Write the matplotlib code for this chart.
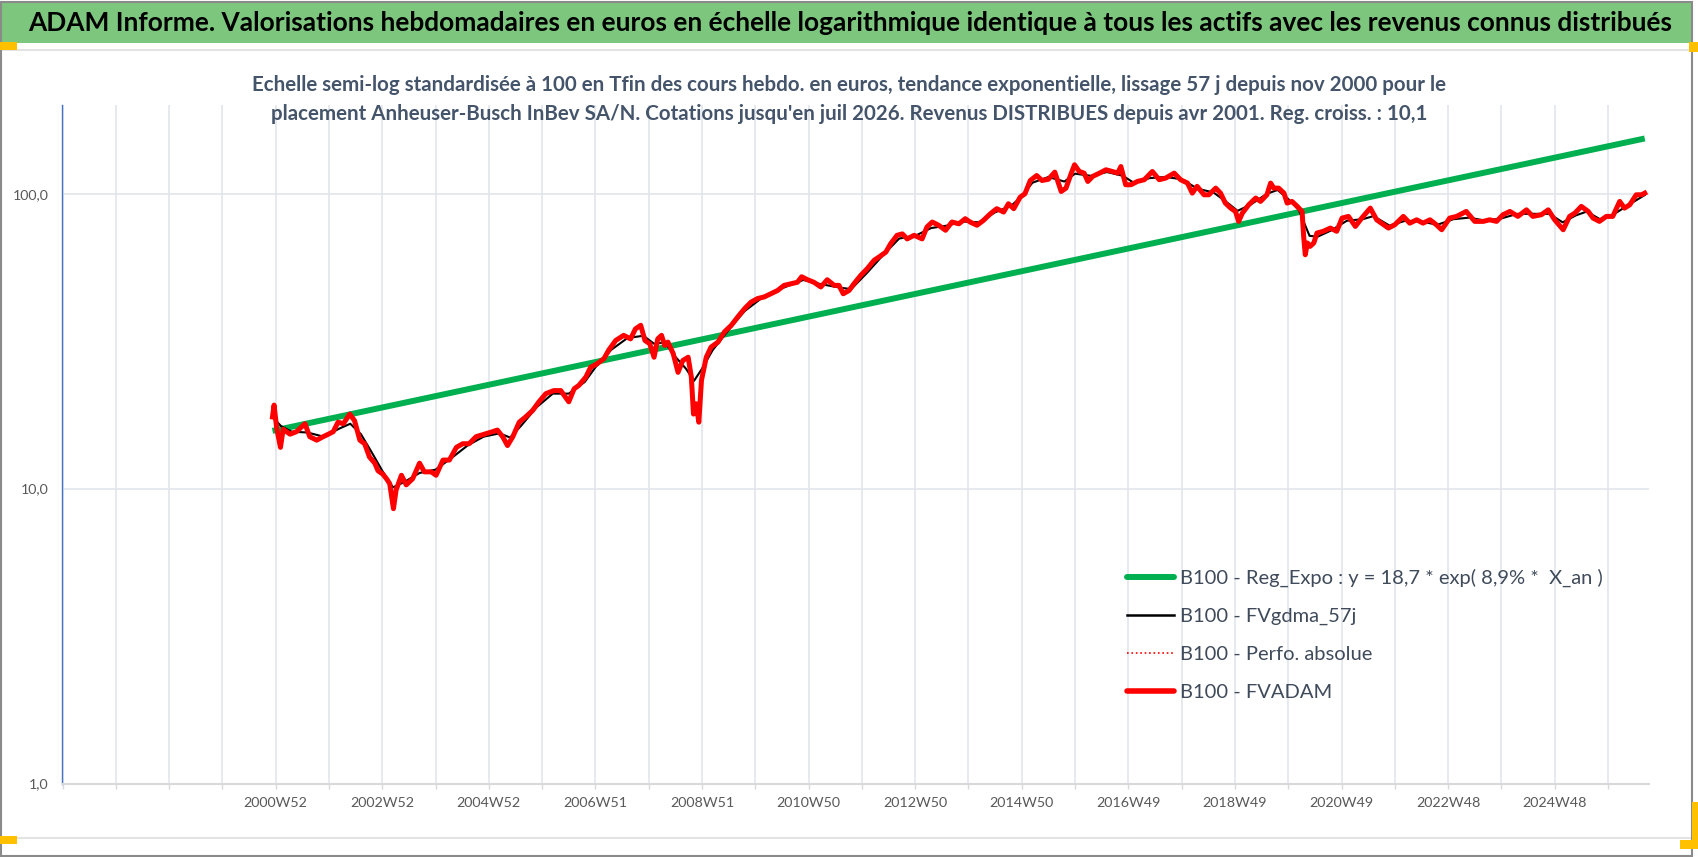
import matplotlib
matplotlib.use("Agg")
import matplotlib.pyplot as plt
import matplotlib.ticker as mticker
from matplotlib.lines import Line2D
from matplotlib.patches import Rectangle

# ---------------- data ----------------
title = ("ADAM Informe. Valorisations hebdomadaires en euros en échelle logarithmique "
         "identique à tous les actifs avec les revenus connus distribués")
subtitle_1 = ("Echelle semi-log standardisée à 100 en Tfin des cours hebdo. en euros, tendance "
              "exponentielle, lissage 57 j depuis nov 2000 pour le")
subtitle_2 = ("placement Anheuser-Busch InBev SA/N. Cotations jusqu'en juil 2026. Revenus "
              "DISTRIBUES depuis avr 2001. Reg. croiss. : 10,1")

series_names = ["B100 - Reg_Expo : y = 18,7 * exp( 8,9% *  X_an )",
                "B100 - FVgdma_57j",
                "B100 - Perfo. absolue",
                "B100 - FVADAM"]

# decimal-year position, value (B100)
fvadam = [
    (2000.94, 17.5), (2000.97, 19.2), (2001.02, 16.0), (2001.09, 13.8), (2001.14, 15.9),
    (2001.27, 15.3), (2001.39, 15.6), (2001.55, 16.6), (2001.64, 15.0), (2001.77, 14.6),
    (2001.89, 15.0), (2001.99, 15.3), (2002.08, 15.6), (2002.17, 16.8), (2002.27, 16.6),
    (2002.39, 17.9), (2002.48, 17.0), (2002.58, 14.6), (2002.67, 14.2), (2002.76, 12.8),
    (2002.86, 12.2), (2002.92, 11.5), (2003.01, 11.2), (2003.08, 10.8), (2003.14, 10.4),
    (2003.21, 8.55), (2003.26, 9.9), (2003.36, 11.1), (2003.45, 10.3), (2003.57, 10.8),
    (2003.70, 12.2), (2003.79, 11.4), (2003.92, 11.4), (2004.01, 11.1), (2004.14, 12.5),
    (2004.26, 12.5), (2004.39, 13.8), (2004.51, 14.2), (2004.63, 14.2), (2004.76, 15.0),
    (2004.92, 15.3), (2005.07, 15.6), (2005.16, 15.8), (2005.26, 15.0), (2005.35, 14.0),
    (2005.45, 15.0), (2005.57, 16.8), (2005.69, 17.5), (2005.82, 18.4), (2005.94, 19.7),
    (2006.07, 21.0), (2006.22, 21.5), (2006.35, 21.5), (2006.50, 19.7), (2006.60, 21.8),
    (2006.69, 22.4), (2006.82, 23.9), (2006.91, 25.8), (2007.03, 26.5), (2007.16, 27.6),
    (2007.25, 29.5), (2007.38, 31.8), (2007.53, 33.1), (2007.66, 32.2), (2007.75, 34.8),
    (2007.85, 35.8), (2007.93, 31.8), (2008.02, 31.0), (2008.10, 27.9), (2008.17, 32.2),
    (2008.24, 33.1), (2008.30, 30.6), (2008.36, 31.4), (2008.46, 28.7), (2008.55, 24.8),
    (2008.64, 27.2), (2008.74, 27.9), (2008.80, 23.9), (2008.84, 17.9), (2008.89, 19.4),
    (2008.94, 16.8), (2008.99, 23.3), (2009.08, 27.9), (2009.17, 30.2), (2009.30, 31.4),
    (2009.42, 34.0), (2009.55, 35.8), (2009.67, 38.2), (2009.80, 40.8), (2009.92, 42.9),
    (2010.04, 44.1), (2010.17, 44.7), (2010.29, 45.8), (2010.42, 47.0), (2010.54, 48.9),
    (2010.67, 49.5), (2010.79, 50.1), (2010.87, 52.3), (2010.98, 51.1), (2011.10, 50.1),
    (2011.23, 48.3), (2011.35, 51.1), (2011.48, 48.9), (2011.57, 48.9), (2011.65, 45.8),
    (2011.76, 47.0), (2011.85, 49.5), (2011.98, 52.9), (2012.10, 55.7), (2012.23, 59.5),
    (2012.32, 61.0), (2012.45, 63.4), (2012.54, 67.7), (2012.66, 72.3), (2012.76, 73.1),
    (2012.85, 70.3), (2012.98, 72.3), (2013.13, 70.3), (2013.22, 77.1), (2013.32, 80.2),
    (2013.44, 78.2), (2013.57, 75.2), (2013.69, 80.2), (2013.82, 79.1), (2013.94, 82.3),
    (2014.03, 80.2), (2014.16, 78.2), (2014.28, 81.2), (2014.41, 85.5), (2014.53, 89.0),
    (2014.66, 86.7), (2014.75, 92.5), (2014.85, 89.0), (2014.97, 97.4), (2015.06, 100.0),
    (2015.16, 110.9), (2015.28, 115.3), (2015.38, 110.9), (2015.50, 112.0), (2015.62, 118.4),
    (2015.74, 101.8), (2015.83, 104.5), (2015.93, 117.5), (2015.99, 125.4), (2016.08, 119.0),
    (2016.17, 117.5), (2016.24, 110.1), (2016.33, 114.5), (2016.46, 117.5), (2016.58, 120.6),
    (2016.70, 119.0), (2016.80, 117.5), (2016.86, 123.7), (2016.95, 107.3), (2017.05, 107.3),
    (2017.17, 110.1), (2017.30, 111.6), (2017.45, 119.0), (2017.58, 111.6), (2017.70, 113.0),
    (2017.86, 117.5), (2017.98, 111.6), (2018.11, 108.7), (2018.20, 100.5), (2018.29, 106.0),
    (2018.42, 99.2), (2018.51, 99.2), (2018.64, 104.5), (2018.73, 100.5), (2018.82, 93.0),
    (2018.92, 89.4), (2019.01, 87.1), (2019.07, 80.6), (2019.14, 86.0), (2019.26, 91.8),
    (2019.39, 96.7), (2019.48, 94.2), (2019.60, 99.2), (2019.67, 108.7), (2019.73, 104.5),
    (2019.82, 104.5), (2019.92, 100.5), (2019.98, 93.0), (2020.07, 94.2), (2020.17, 90.6),
    (2020.26, 87.1), (2020.29, 71.6), (2020.32, 62.1), (2020.36, 68.1), (2020.41, 66.3),
    (2020.48, 68.1), (2020.54, 73.6), (2020.66, 74.6), (2020.79, 76.5), (2020.91, 74.6),
    (2021.01, 82.7), (2021.13, 83.8), (2021.26, 77.5), (2021.38, 82.7), (2021.54, 89.4),
    (2021.66, 81.6), (2021.79, 78.5), (2021.88, 76.5), (2022.00, 78.5), (2022.16, 83.8),
    (2022.28, 79.5), (2022.41, 81.6), (2022.53, 79.5), (2022.66, 81.6), (2022.78, 78.5),
    (2022.88, 75.5), (2023.03, 82.7), (2023.16, 83.8), (2023.34, 87.1), (2023.50, 80.6),
    (2023.66, 80.6), (2023.78, 81.6), (2023.91, 80.6), (2024.03, 84.9), (2024.16, 87.1),
    (2024.31, 83.8), (2024.47, 88.2), (2024.59, 83.8), (2024.75, 84.9), (2024.88, 88.2),
    (2025.00, 81.6), (2025.16, 75.5), (2025.28, 83.8), (2025.38, 86.0), (2025.50, 90.6),
    (2025.63, 87.1), (2025.72, 82.7), (2025.84, 80.6), (2025.97, 83.8), (2026.09, 83.8),
    (2026.22, 94.2), (2026.31, 89.4), (2026.41, 91.8), (2026.53, 99.2), (2026.63, 99.2),
    (2026.69, 100.5),
]

fvgdma = [
    (2000.94, 17.5), (2001.10, 16.3), (2001.30, 15.6), (2001.60, 15.5), (2001.90, 15.0),
    (2002.20, 16.0), (2002.40, 16.6), (2002.60, 15.3), (2002.80, 13.3), (2003.00, 11.5),
    (2003.20, 10.1), (2003.40, 10.5), (2003.70, 11.3), (2004.00, 11.6), (2004.30, 12.7),
    (2004.60, 14.0), (2004.90, 15.0), (2005.20, 15.4), (2005.40, 14.9), (2005.60, 16.3),
    (2005.90, 18.9), (2006.20, 21.0), (2006.50, 21.0), (2006.80, 23.0), (2007.00, 25.8),
    (2007.30, 29.6), (2007.60, 32.4), (2007.90, 33.0), (2008.10, 31.0), (2008.30, 31.3),
    (2008.50, 28.0), (2008.70, 25.5), (2008.85, 23.2), (2009.00, 25.5), (2009.20, 29.5),
    (2009.50, 34.5), (2009.80, 40.0), (2010.10, 44.0), (2010.50, 47.8), (2010.90, 51.0),
    (2011.20, 49.5), (2011.60, 48.0), (2011.80, 47.5), (2012.10, 54.0), (2012.40, 62.0),
    (2012.70, 70.5), (2013.00, 72.0), (2013.30, 76.5), (2013.60, 78.0), (2013.90, 80.5),
    (2014.20, 80.0), (2014.50, 86.5), (2014.80, 91.0), (2015.00, 98.0), (2015.20, 109.0),
    (2015.50, 114.0), (2015.80, 110.0), (2016.00, 117.0), (2016.30, 115.0), (2016.60, 118.5),
    (2016.90, 115.0), (2017.10, 109.0), (2017.40, 113.0), (2017.70, 114.0), (2018.00, 112.0),
    (2018.30, 104.0), (2018.60, 101.0), (2018.90, 92.0), (2019.05, 87.5), (2019.30, 92.0),
    (2019.60, 100.0), (2019.80, 103.0), (2020.00, 96.0), (2020.20, 88.0), (2020.40, 72.0),
    (2020.55, 71.5), (2020.80, 75.0), (2021.10, 81.0), (2021.40, 82.0), (2021.60, 84.0),
    (2021.90, 78.0), (2022.20, 81.0), (2022.50, 80.5), (2022.80, 78.5), (2023.10, 82.0),
    (2023.40, 83.0), (2023.70, 81.0), (2024.00, 82.5), (2024.30, 85.5), (2024.60, 85.5),
    (2024.90, 85.5), (2025.15, 80.0), (2025.40, 84.5), (2025.60, 87.0), (2025.85, 82.0),
    (2026.10, 85.0), (2026.40, 92.0), (2026.69, 99.0),
]

# exponential regression line (straight on the log axis): end points
reg_x = [2000.94, 2026.69]
reg_y = [15.7, 154.0]

grid_years = list(range(1997, 2027))
tick_pos = [2001, 2003, 2005, 2007, 2009, 2011, 2013, 2015, 2017, 2019, 2021, 2023, 2025]
tick_labels = ["2000W52", "2002W52", "2004W52", "2006W51", "2008W51", "2010W50", "2012W50",
               "2014W50", "2016W49", "2018W49", "2020W49", "2022W48", "2024W48"]
ytick_vals = [1, 10, 100]
ytick_labels = ["1,0", "10,0", "100,0"]

# ---------------- figure ----------------
W, H, DPI = 1698, 857, 100
FONT = ["Lato", "DejaVu Sans"]
plt.rcParams["font.family"] = FONT

fig = plt.figure(figsize=(W / DPI, H / DPI), dpi=DPI, facecolor="white")
renderer = fig.canvas.get_renderer()


def fx(x):
    return x / W


def fy(y):
    return 1 - y / H


def fit_size(txt, target_px, weight="normal"):
    t = fig.text(0, 0, txt, fontsize=20, fontweight=weight)
    w = t.get_window_extent(renderer=renderer).width
    t.remove()
    return 20 * target_px / w


def rect_px(x0, y0, x1, y1, **kw):
    fig.add_artist(Rectangle((fx(x0), fy(y1)), (x1 - x0) / W, (y1 - y0) / H,
                             transform=fig.transFigure, **kw))


# decoration: frame, title bar, separators, selection handles
rect_px(1, 3, 1692, 43, facecolor="#7DC67E", edgecolor="none", zorder=0)
rect_px(1, 49, 1692, 51, facecolor="#E3E3E3", edgecolor="none", zorder=0)
rect_px(1, 837, 1692, 839, facecolor="#E3E3E3", edgecolor="none", zorder=0)
rect_px(0.8, 1.5, 1692, 855.5, facecolor="none", edgecolor="#8A8A8A", lw=1.5, zorder=5)
handle_col = "#FFC000"
rect_px(0, 42, 17, 50, facecolor=handle_col, edgecolor="none", zorder=6)
rect_px(1689, 42, 1698, 52, facecolor=handle_col, edgecolor="none", zorder=6)
rect_px(0, 836, 17, 844, facecolor=handle_col, edgecolor="none", zorder=6)
rect_px(1692, 802, 1698, 848, facecolor=handle_col, edgecolor="none", zorder=6)
rect_px(1680, 840, 1698, 849, facecolor=handle_col, edgecolor="none", zorder=6)

# titles
fs_title = fit_size(title, 1646, "bold")
fig.text(fx(850), fy(31), title, ha="center", va="baseline", fontsize=fs_title,
         fontweight="bold", color="black")
fs_sub = fit_size(subtitle_1, 1194, "bold")
fig.text(fx(849), fy(91), subtitle_1, ha="center", va="baseline", fontsize=fs_sub,
         fontweight="bold", color="#44546A")
fig.text(fx(849), fy(120), subtitle_2, ha="center", va="baseline", fontsize=fs_sub,
         fontweight="bold", color="#44546A")

# axes
x_left, x_right, y_top, y_bot = 62.5, 1649, 105, 783.5
ax = fig.add_axes([fx(x_left), fy(y_bot), (x_right - x_left) / W, (y_bot - y_top) / H])
ax.set_facecolor("none")
ax.set_yscale("log")
ax.set_ylim(1, 200)
ax.set_xlim(1997.0, 2026.77)

fs_xtick = fit_size("2002W52", 64)
fs_ytick = fit_size("100,0", 36)
lab = dict(zip(tick_pos, tick_labels))
ax.set_xticks(grid_years)
ax.set_xticklabels([lab.get(p, "") for p in grid_years])
ax.set_yticks(ytick_vals)
ax.set_yticklabels(ytick_labels)
ax.yaxis.set_minor_locator(mticker.NullLocator())
ax.tick_params(axis="x", length=3.6, width=1.0, color="#D9D9D9", pad=6.0,
               labelsize=fs_xtick, labelcolor="#595959")
ax.tick_params(axis="y", length=0, pad=10.2, labelsize=fs_ytick, labelcolor="#595959")
ax.grid(True, which="major", color="#E2E5EB", lw=1.2)
ax.set_axisbelow(True)
for s in ("top", "right"):
    ax.spines[s].set_visible(False)
ax.spines["left"].set_color("#4472C4")
ax.spines["left"].set_linewidth(1.0)
ax.spines["bottom"].set_color("#D9D9D9")
ax.spines["bottom"].set_linewidth(1.5)

ad_x = [p[0] for p in fvadam]
ad_y = [p[1] for p in fvadam]
gd_x = [p[0] for p in fvgdma]
gd_y = [p[1] for p in fvgdma]

green, red = "#00B050", "#FF0000"
ax.plot(reg_x, reg_y, color=green, lw=4.3, solid_capstyle="butt", zorder=2)
ax.plot(gd_x, gd_y, color="black", lw=1.5, zorder=3)
ax.plot(ad_x, ad_y, color=red, lw=1.0, ls=":", zorder=3)
ax.plot(ad_x, ad_y, color=red, lw=3.6, solid_joinstyle="round", zorder=4)

# legend
handles = [Line2D([], [], color=green, lw=4.3, solid_capstyle="round"),
           Line2D([], [], color="black", lw=1.8),
           Line2D([], [], color=red, lw=1.2, ls=":"),
           Line2D([], [], color=red, lw=4.0, solid_capstyle="round")]
fs_leg = fit_size(series_names[0], 423)
leg_px = fs_leg * DPI / 72


def make_legend(spacing, top):
    return ax.legend(handles, series_names, loc="upper left",
                     bbox_to_anchor=(fx(1127), fy(top)), bbox_transform=fig.transFigure,
                     frameon=False, fontsize=fs_leg, labelcolor="#3F4A5A",
                     handlelength=47 / leg_px, handletextpad=6 / leg_px,
                     labelspacing=spacing, borderpad=0, borderaxespad=0)


def text_cy(t):
    bb = t.get_window_extent(renderer=renderer)
    return H - (bb.y0 + bb.y1) / 2


spacing, top = 0.8, 565
leg = make_legend(spacing, top)
fig.canvas.draw()
cys = [text_cy(t) for t in leg.get_texts()]
pitch = (cys[-1] - cys[0]) / 3
spacing = spacing + (38.3 - pitch) / leg_px
leg.remove()
leg = make_legend(spacing, top)
fig.canvas.draw()
top = top + (578 - text_cy(leg.get_texts()[0]))
leg.remove()
leg = make_legend(spacing, top)

fig.savefig("out.png", dpi=DPI, facecolor="white")
